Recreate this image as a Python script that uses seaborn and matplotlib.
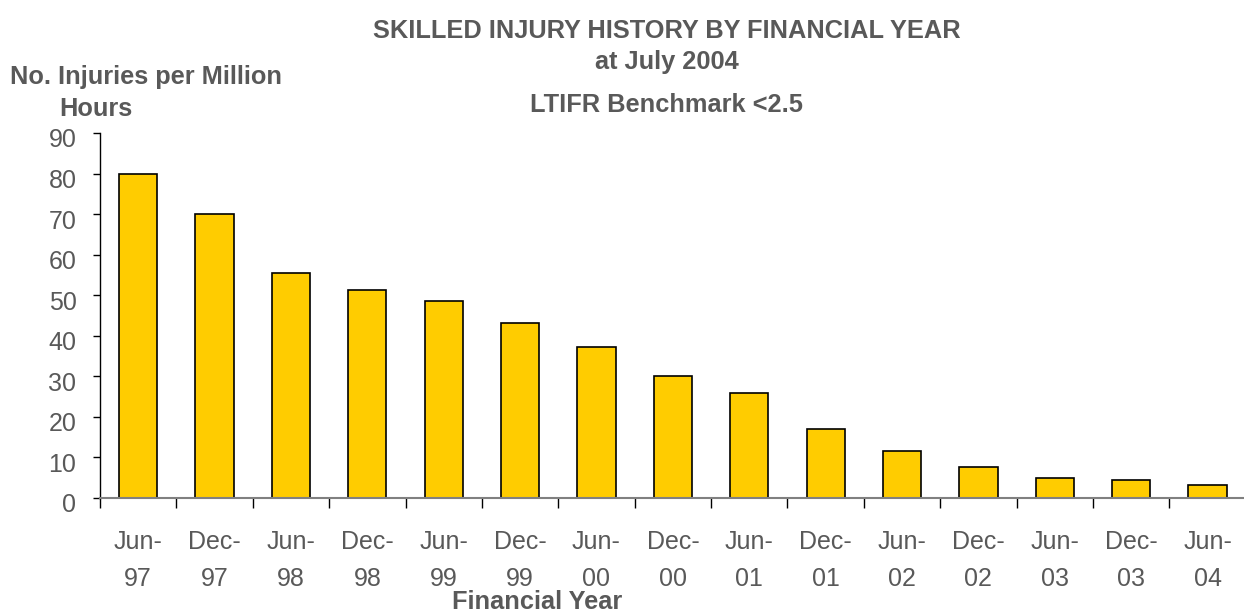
import pandas as pd
import matplotlib.pyplot as plt
import matplotlib.transforms as mtransforms
import seaborn as sns
import numpy as np

# data
periods = ["Jun-\n97", "Dec-\n97", "Jun-\n98", "Dec-\n98", "Jun-\n99", "Dec-\n99", "Jun-\n00",
           "Dec-\n00", "Jun-\n01", "Dec-\n01", "Jun-\n02", "Dec-\n02", "Jun-\n03", "Dec-\n03", "Jun-\n04"]
injury_rate = [80, 70, 55.5, 51.3, 48.6, 43.1, 37.2, 30.1, 25.8, 17.1, 11.5, 7.6, 4.9, 4.5, 3.3]
y_ticks = [0, 10, 20, 30, 40, 50, 60, 70, 80, 90]

sns.set_style("white")
plt.rcParams['font.family'] = ['Liberation Sans', 'DejaVu Sans']
text_col = '#595959'

df = pd.DataFrame({'period': periods, 'rate': injury_rate})

fig = plt.figure(figsize=(12.44, 6.12), dpi=100)
ax = fig.add_axes([0.0804, 0.1863, 0.921, 0.5964])

sns.barplot(data=df, x='period', y='rate', color='#FFCC00', saturation=1,
            width=0.5, edgecolor='black', linewidth=1.2, ax=ax)

ax.set_xlim(-0.5, len(periods) - 0.5)
ax.set_ylim(0, 90)
ax.set_yticks(y_ticks)
ax.set_xlabel('')
ax.set_ylabel('')

# spines
for s in ['top', 'right']:
    ax.spines[s].set_visible(False)
ax.spines['left'].set_color('black')
ax.spines['left'].set_linewidth(1)
ax.spines['bottom'].set_color('#808080')
ax.spines['bottom'].set_linewidth(1.5)

# ticks: labels centred on bars, tick marks at category boundaries
ax.tick_params(axis='y', direction='out', length=5, width=1, color='black',
               labelsize=18, labelcolor=text_col, pad=12, left=True)
ax.tick_params(axis='x', which='major', length=0, labelsize=18, labelcolor=text_col, pad=23)
for lbl in ax.get_xticklabels():
    lbl.set_linespacing(1.7)
# y labels sit a little below their ticks in the original
shift = mtransforms.ScaledTranslation(0, -5 / 100, fig.dpi_scale_trans)
for lbl in ax.get_yticklabels():
    lbl.set_transform(lbl.get_transform() + shift)
ax.set_xticks(np.arange(-0.5, len(periods), 1), minor=True)
ax.tick_params(axis='x', which='minor', direction='out', length=7, width=1, color='black', bottom=True)

# titles and axis labels
title_kw = dict(fontsize=18.3, fontweight='bold', color=text_col)
fig.text(0.536, 0.949, 'SKILLED INJURY HISTORY BY FINANCIAL YEAR', ha='center', va='center', **title_kw)
fig.text(0.536, 0.899, 'at July 2004', ha='center', va='center', **title_kw)
fig.text(0.536, 0.8285, 'LTIFR Benchmark <2.5', ha='center', va='center', **title_kw)
fig.text(0.008, 0.874, 'No. Injuries per Million', ha='left', va='center', **title_kw)
fig.text(0.048, 0.822, 'Hours', ha='left', va='center', **title_kw)
fig.text(0.4317, 0.0163, 'Financial Year', ha='center', va='center', **title_kw)

plt.savefig('out.png', dpi=100)
plt.close()
